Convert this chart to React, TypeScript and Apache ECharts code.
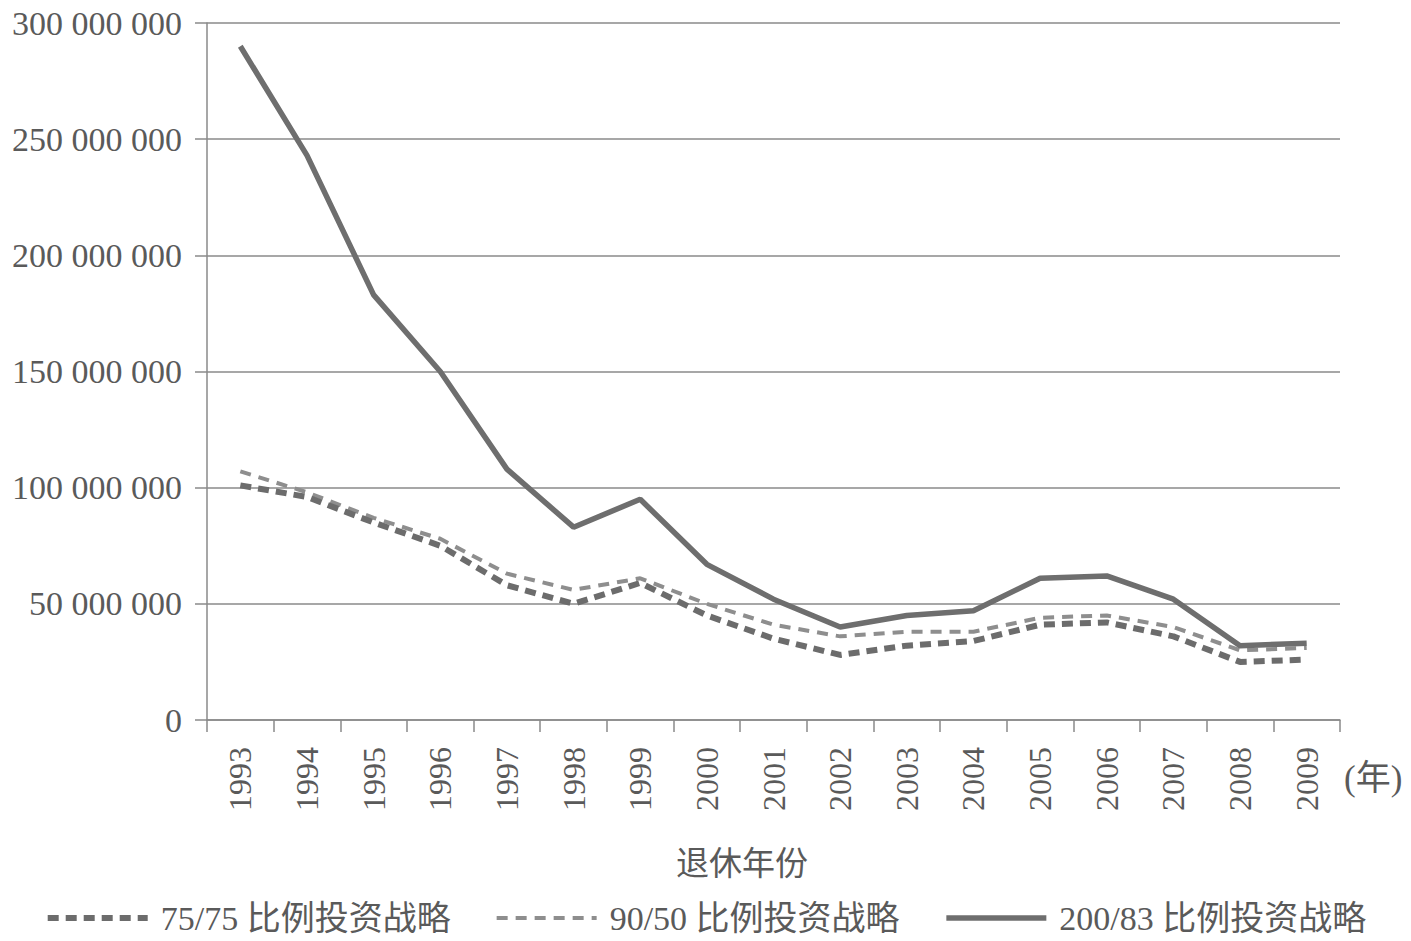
import React, { useEffect, useRef } from "react";
import * as echarts from "echarts";

const years = ["1993", "1994", "1995", "1996", "1997", "1998", "1999", "2000", "2001", "2002", "2003", "2004", "2005", "2006", "2007", "2008", "2009"];
const s7575 = [101, 96, 85, 75, 58, 50, 59, 45, 35, 28, 32, 34, 41, 42, 36, 25, 26].map((v) => v * 1e6);
const s9050 = [107, 98, 87, 78, 63, 56, 61, 50, 41, 36, 38, 38, 44, 45, 40, 30, 31].map((v) => v * 1e6);
const s20083 = [290, 243, 183, 150, 108, 83, 95, 67, 52, 40, 45, 47, 61, 62, 52, 32, 33].map((v) => v * 1e6);
const seriesNames = ["75/75 比例投资战略", "90/50 比例投资战略", "200/83 比例投资战略"];
const yMax = 300000000;
const yStep = 50000000;

const FONT = '"Liberation Serif", "Noto Sans CJK SC", serif';
const TEXT = "#5a5a5a";

const dash1 = [11, 7];
const dash2 = [11, 8];

function fmt(v: number) {
  return String(Math.round(v)).replace(/\B(?=(\d{3})+(?!\d))/g, " ");
}

export default function App() {
  const ref = useRef<HTMLDivElement>(null);
  useEffect(() => {
    if (!ref.current) return;
    const chart = echarts.init(ref.current, null, { renderer: "svg" });
    chart.setOption({
      animation: false,
      backgroundColor: "#ffffff",
      grid: { left: 207, right: 71, top: 23, bottom: 221, containLabel: false },
      legend: {
        top: 896,
        left: "center",
        itemWidth: 100,
        itemHeight: 12,
        itemGap: 44,
        itemStyle: { opacity: 0, borderWidth: 0 },
        textStyle: { fontFamily: FONT, fontSize: 34, color: TEXT, padding: [0, 0, 0, 8] },
        data: [
          { name: seriesNames[0], lineStyle: { width: 6, type: dash1, color: "#6c6c6c" } },
          { name: seriesNames[1], lineStyle: { width: 4, type: dash2, color: "#8e8e8e" } },
          { name: seriesNames[2], lineStyle: { width: 5.5, type: "solid", color: "#6e6e6e" } },
        ],
      },
      xAxis: {
        type: "category",
        data: years,
        boundaryGap: true,
        axisLine: { lineStyle: { color: "#8a8a8a", width: 1.5 } },
        axisTick: { show: true, length: 12, alignWithLabel: false, lineStyle: { color: "#8a8a8a", width: 1.5 } },
        axisLabel: { rotate: 90, margin: 27, fontFamily: FONT, fontSize: 32, color: TEXT, interval: 0 },
        splitLine: { show: false },
      },
      yAxis: {
        type: "value",
        min: 0,
        max: yMax,
        interval: yStep,
        axisLine: { show: true, lineStyle: { color: "#8a8a8a", width: 1.5 } },
        axisTick: { show: true, length: 12, lineStyle: { color: "#8a8a8a", width: 1.5 } },
        axisLabel: { margin: 25, fontFamily: FONT, fontSize: 34, color: TEXT, formatter: (v: number) => fmt(v) },
        splitLine: { show: true, lineStyle: { color: "#8a8a8a", width: 1.5 } },
      },
      graphic: [
        {
          type: "text",
          left: 676,
          top: 847,
          style: { text: "退休年份", fontFamily: FONT, fontSize: 33, fill: TEXT },
        },
        {
          type: "text",
          left: 1344,
          top: 761,
          style: { text: "(年)", fontFamily: FONT, fontSize: 35, fill: TEXT },
        },
      ],
      series: [
        {
          name: seriesNames[0],
          type: "line",
          data: s7575,
          showSymbol: false,
          symbol: "none",
          lineStyle: { color: "#6c6c6c", width: 6, type: dash1 },
          itemStyle: { color: "#6c6c6c" },
          z: 3,
        },
        {
          name: seriesNames[1],
          type: "line",
          data: s9050,
          showSymbol: false,
          symbol: "none",
          lineStyle: { color: "#8e8e8e", width: 4, type: dash2 },
          itemStyle: { color: "#8e8e8e" },
          z: 2,
        },
        {
          name: seriesNames[2],
          type: "line",
          data: s20083,
          showSymbol: false,
          symbol: "none",
          lineStyle: { color: "#6e6e6e", width: 5.5, type: "solid" },
          itemStyle: { color: "#6e6e6e" },
          z: 4,
        },
      ],
    });
    return () => chart.dispose();
  }, []);
  return <div ref={ref} style={{ position: "fixed", left: 0, top: 0, width: 1411, height: 941 }} />;
}
